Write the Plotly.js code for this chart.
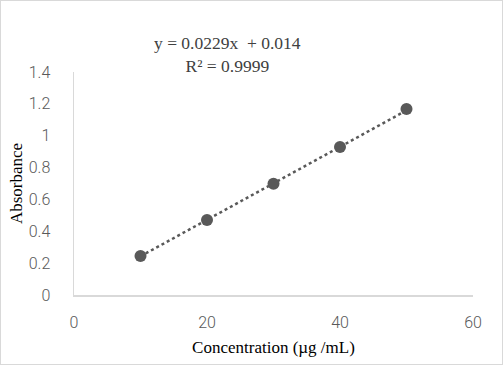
<!DOCTYPE html>
<html>
<head>
<meta charset="utf-8">
<script src="https://cdn.plot.ly/plotly-3.0.1.min.js"></script>
<style>
html,body{margin:0;padding:0;background:#fff;}
#wrap{position:relative;width:503px;height:365px;}
#chart{width:503px;height:365px;}
#frame{position:absolute;left:0;top:0;width:501px;height:363px;border:1px solid #d9d9d9;pointer-events:none;}
</style>
</head>
<body>
<div id="wrap"><div id="chart"></div><div id="frame"></div></div>
<script>
var concentration = [10, 20, 30, 40, 50];
var absorbance = [0.245, 0.471, 0.699, 0.929, 1.167];
var slope = 0.0229;
var intercept = 0.014;
var equationText = "y = 0.0229x  + 0.014<br>R² = 0.9999";
var xTitle = "Concentration (µg /mL)";
var yTitle = "Absorbance";

var trendX = [concentration[0], concentration[concentration.length - 1]];
var trendY = trendX.map(function (x) { return slope * x + intercept; });

var tickFont = {family: 'Roboto, Open Sans, sans-serif', size: 16, color: '#595959', weight: 300};

var traces = [
  {
    x: trendX, y: trendY, mode: 'lines', type: 'scatter',
    line: {color: '#595959', width: 2.5, dash: 'dot'},
    hoverinfo: 'skip', showlegend: false
  },
  {
    x: concentration, y: absorbance, mode: 'markers', type: 'scatter',
    marker: {color: '#595959', size: 12},
    showlegend: false
  }
];

var layout = {
  width: 503, height: 365,
  margin: {l: 74, r: 30, t: 72, b: 70},
  paper_bgcolor: '#ffffff', plot_bgcolor: '#ffffff',
  showlegend: false,
  xaxis: {
    range: [0, 60], tickvals: [0, 20, 40, 60], ticks: '',
    showgrid: false, zeroline: false, showline: true,
    linecolor: '#d9d9d9', linewidth: 1.5,
    ticklabelstandoff: 12,
    tickfont: tickFont,
    title: {text: xTitle, standoff: 10, font: {family: 'Liberation Serif, Times New Roman, serif', size: 17, color: '#000000'}}
  },
  yaxis: {
    range: [0, 1.4], tickvals: [0, 0.2, 0.4, 0.6, 0.8, 1, 1.2, 1.4],
    ticktext: ['0', '0.2', '0.4', '0.6', '0.8', '1', '1.2', '1.4'],
    ticks: '', showgrid: false, zeroline: false, showline: true,
    linecolor: '#d9d9d9', linewidth: 1.5,
    ticklabelstandoff: 19,
    tickfont: tickFont,
    title: {text: yTitle, standoff: 2, font: {family: 'Liberation Serif, Times New Roman, serif', size: 17, color: '#000000'}}
  },
  annotations: [{
    xref: 'paper', yref: 'paper', x: (227 - 74) / 399, y: 1 + (72 - 54.5) / 223,
    xanchor: 'center', yanchor: 'middle', showarrow: false, align: 'center',
    text: equationText,
    font: {family: 'Liberation Serif, Times New Roman, serif', size: 17.5, color: '#404040'}
  }]
};

Plotly.newPlot('chart', traces, layout, {displayModeBar: false, staticPlot: true});
</script>
</body>
</html>
